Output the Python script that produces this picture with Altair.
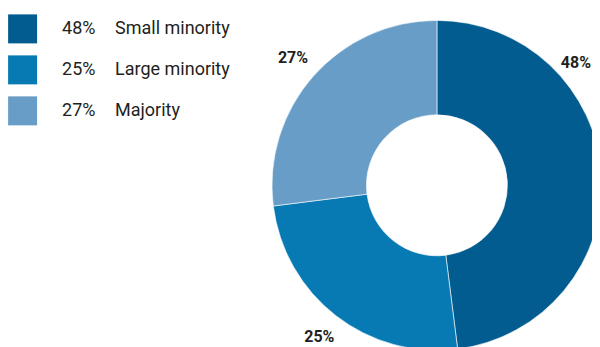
import altair as alt
import pandas as pd

categories = ["Small minority", "Large minority", "Majority"]
values = [48, 25, 27]
labels = ["48%", "25%", "27%"]
order_idx = [0, 1, 2]

colors = ["#035c8f", "#0779b3", "#679dc7"]
FONT = "Roboto, Liberation Sans, sans-serif"

W, H = 592, 339
S = 600 / (W + 16)  # page is fitted to the window width


def px(p):
    """target page coordinate -> chart coordinate"""
    return p / S - 8


def sz(v):
    return v / S


df = pd.DataFrame({"category": categories, "value": values, "label": labels, "idx": order_idx})

base = alt.Chart(df)
color = alt.Color("category:N", scale=alt.Scale(domain=categories, range=colors), legend=None)

cx, cy = px(437), px(183)

arcs = base.mark_arc(innerRadius=sz(70.5), outerRadius=sz(165), stroke="white", strokeWidth=0.6).encode(
    theta=alt.Theta("value:Q", stack=True),
    order=alt.Order("idx:Q"),
    color=color,
    x=alt.value(cx),
    y=alt.value(cy),
)

R_LAB = sz(192)
R_LAB_IN = sz(185)

slice_labels = base.transform_window(
    cum="sum(value)", sort=[alt.SortField("idx")], frame=[None, 0]
).transform_calculate(
    mid="(datum.cum - datum.value/2)/100*2*PI",
    lt="datum.mid < 1.6 ? 0.85 : datum.mid",
    lr=f"datum.mid < 1.6 ? {R_LAB_IN} : {R_LAB}",
).mark_text(
    font=FONT, fontSize=sz(16), fontWeight="bold", color="#231f20",
    align="center", baseline="middle",
).encode(
    theta=alt.Theta("lt:Q", scale=None, stack=None),
    radius=alt.Radius("lr:Q", scale=None),
    text="label:N",
    x=alt.value(cx),
    y=alt.value(cy),
)

yscale = alt.Scale(domain=[0, 2], range=[px(26.5), px(108.5)])

leg_sq = base.mark_square(size=sz(29) ** 2, opacity=1).encode(
    x=alt.value(px(22.5)),
    y=alt.Y("idx:Q", scale=yscale, axis=None),
    color=color,
)

txt_style = dict(font=FONT, fontSize=sz(18), color="#231f20", align="left",
                 baseline="alphabetic", dy=sz(5.5))

leg_pct = base.mark_text(**txt_style).encode(
    x=alt.value(px(62)),
    y=alt.Y("idx:Q", scale=yscale, axis=None),
    text="label:N",
)

leg_name = base.mark_text(**txt_style).encode(
    x=alt.value(px(115)),
    y=alt.Y("idx:Q", scale=yscale, axis=None),
    text="category:N",
)

chart = alt.layer(arcs, slice_labels, leg_sq, leg_pct, leg_name).properties(
    width=W, height=H, padding=0, autosize=alt.AutoSizeParams(type="none"),
    background="white",
).configure_view(stroke=None)

chart.save("out.html", embed_options={"renderer": "svg", "actions": False})
